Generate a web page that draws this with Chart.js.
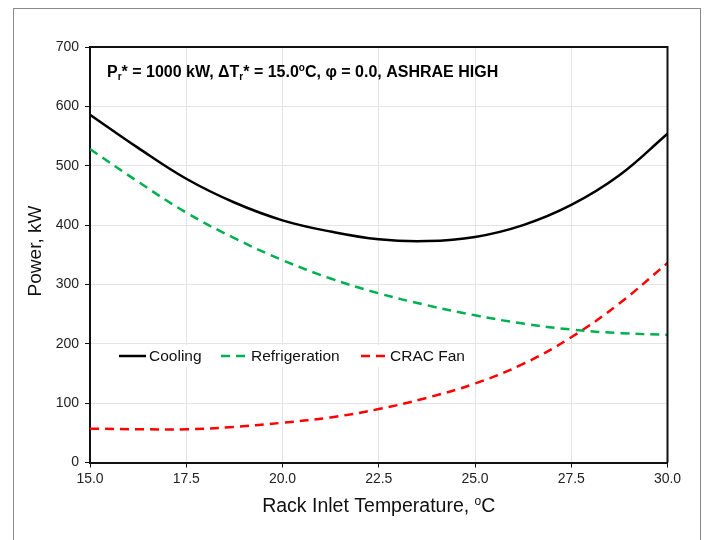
<!DOCTYPE html>
<html><head><meta charset="utf-8">
<script src="https://cdn.jsdelivr.net/npm/chart.js@4.4.0/dist/chart.umd.min.js"></script>
<style>html,body{margin:0;padding:0;background:#fff;}#wrap{position:relative;width:707px;height:540px;}</style>
</head><body><div id="wrap"><canvas id="c" width="707" height="540"></canvas></div>
<script>
// ---- data ----
const temperatures = [15, 16.25, 17.5, 18.75, 20, 21.25, 22.5, 23.75, 25, 26.25, 27.5, 28.75, 30];
const cooling      = [586, 530, 478, 438, 408, 389, 376, 373, 380, 400, 434, 484, 554];
const refrigeration= [528, 473, 421, 378, 341, 310, 285, 265, 248, 234, 224, 218, 215];
const cracFan      = [57, 56, 56, 60, 67, 76, 90, 109, 133, 166, 211, 268, 336];
const seriesNames  = ['Cooling', 'Refrigeration', 'CRAC Fan'];
const xTicks = [15, 17.5, 20, 22.5, 25, 27.5, 30];
const yTicks = [0, 100, 200, 300, 400, 500, 600, 700];
const xTitle = 'Rack Inlet Temperature, ';
const yTitle = 'Power, kW';

const FONT = "'Liberation Sans', Arial, Helvetica, sans-serif";
const colors = ['#000000', '#00b050', '#ff0000'];
const dashes = [[], [9, 6], [9, 6]];

function pts(vals){ return temperatures.map((t,i)=>({x:t, y:vals[i]})); }

const decor = {
  id: 'decor',
  beforeDraw(chart){
    const ctx = chart.ctx;
    ctx.save();
    ctx.fillStyle = '#fff';
    ctx.fillRect(0,0,chart.width,chart.height);
    ctx.strokeStyle = '#8a8a8a';
    ctx.lineWidth = 1;
    ctx.strokeRect(13.5, 8.5, 687, 600);
    ctx.restore();
  },
  afterDraw(chart){
    const ctx = chart.ctx;
    const a = chart.chartArea;
    ctx.save();
    // top/right box lines
    ctx.strokeStyle = '#111';
    ctx.lineWidth = 2;
    ctx.beginPath();
    ctx.moveTo(a.left, a.top); ctx.lineTo(a.right, a.top); ctx.lineTo(a.right, a.bottom);
    ctx.stroke();

    // title with sub/superscripts
    const parts = [
      ['P','n'],['r','sub'],['* = 1000 kW, \u0394T','n'],['r','sub'],['* = 15.0','n'],['o','sup'],['C, \u03c6 = 0.0, ASHRAE HIGH','n']
    ];
    let x = 107, base = 77;
    ctx.fillStyle = '#000';
    ctx.textBaseline = 'alphabetic';
    ctx.textAlign = 'left';
    for (const [t, k] of parts){
      if (k === 'n'){ ctx.font = 'bold 16px ' + FONT; ctx.fillText(t, x, base); }
      else if (k === 'sub'){ ctx.font = 'bold 10px ' + FONT; ctx.fillText(t, x, base + 3); }
      else { ctx.font = 'bold 10px ' + FONT; ctx.fillText(t, x, base - 6); }
      x += ctx.measureText(t).width;
    }

    // legend inside plot
    ctx.fillStyle = '#fff';
    ctx.fillRect(112, 345, 350, 22);
    const ly = 356;
    const items = [[119, 146, 149], [221, 248, 251], [361, 388, 390]];
    ctx.font = '15.5px ' + FONT;
    ctx.textBaseline = 'middle';
    items.forEach((it, i) => {
      ctx.strokeStyle = colors[i];
      ctx.lineWidth = 2.5;
      ctx.setLineDash(dashes[i]);
      ctx.beginPath(); ctx.moveTo(it[0], ly); ctx.lineTo(it[1], ly); ctx.stroke();
      ctx.setLineDash([]);
      ctx.fillStyle = '#111';
      ctx.fillText(seriesNames[i], it[2], ly + 1);
    });

    // x axis title
    ctx.textBaseline = 'alphabetic';
    ctx.font = '19.5px ' + FONT;
    const w1 = ctx.measureText(xTitle).width;
    ctx.font = '12px ' + FONT;
    const w2 = ctx.measureText('o').width;
    ctx.font = '19.5px ' + FONT;
    const w3 = ctx.measureText('C').width;
    let sx = (a.left + a.right)/2 - (w1 + w2 + w3)/2;
    const xb = 512;
    ctx.fillStyle = '#111';
    ctx.fillText(xTitle, sx, xb); sx += w1;
    ctx.font = '12px ' + FONT; ctx.fillText('o', sx, xb - 7); sx += w2;
    ctx.font = '19.5px ' + FONT; ctx.fillText('C', sx, xb);

    // y axis title
    ctx.save();
    ctx.translate(41, 251);
    ctx.rotate(-Math.PI/2);
    ctx.textAlign = 'center';
    ctx.font = '19px ' + FONT;
    ctx.fillText(yTitle, 0, 0);
    ctx.restore();
    ctx.restore();
  }
};

new Chart(document.getElementById('c'), {
  type: 'line',
  data: {
    datasets: [
      { label: seriesNames[0], data: pts(cooling), borderColor: colors[0], borderWidth: 2.5, borderDash: dashes[0] },
      { label: seriesNames[1], data: pts(refrigeration), borderColor: colors[1], borderWidth: 2.5, borderDash: dashes[1] },
      { label: seriesNames[2], data: pts(cracFan), borderColor: colors[2], borderWidth: 2.5, borderDash: dashes[2] }
    ].map(d => Object.assign(d, { fill: false, pointRadius: 0, tension: 0.4 }))
  },
  options: {
    responsive: false,
    animation: false,
    devicePixelRatio: 1,
    layout: { padding: { top: 47, right: 39.5, left: 0, bottom: 0 } },
    plugins: { legend: { display: false }, tooltip: { enabled: false }, title: { display: false } },
    scales: {
      x: {
        type: 'linear', min: 15, max: 30,
        afterBuildTicks: s => { s.ticks = xTicks.map(v => ({ value: v })); },
        afterFit: s => { s.height = 77.5; },
        ticks: { callback: v => Number(v).toFixed(1), font: { size: 14, family: FONT }, color: '#222', padding: 3, maxRotation: 0, autoSkip: false },
        grid: { color: '#e4e4e4', lineWidth: 1, tickLength: 5, tickColor: '#111', drawTicks: true },
        border: { color: '#111', width: 2 }
      },
      y: {
        min: 0, max: 700,
        afterBuildTicks: s => { s.ticks = yTicks.map(v => ({ value: v })); },
        afterFit: s => { s.width = 90; },
        ticks: { font: { size: 14, family: FONT }, color: '#222', padding: 6 },
        grid: { color: '#e4e4e4', lineWidth: 1, tickLength: 5, tickColor: '#111', drawTicks: true },
        border: { color: '#111', width: 2 }
      }
    }
  },
  plugins: [decor]
});
</script></body></html>
